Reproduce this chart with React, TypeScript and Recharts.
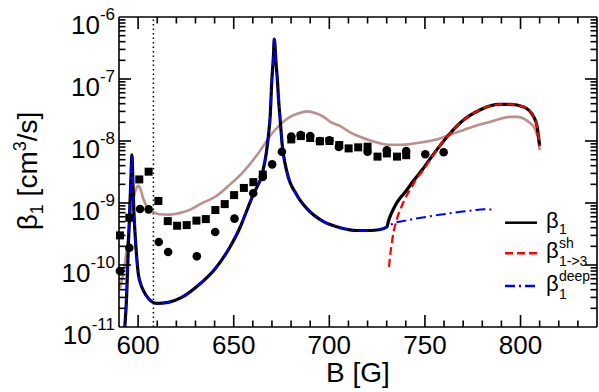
import React from 'react';
import { ComposedChart, Line, Scatter, XAxis, YAxis, ReferenceLine, Legend } from 'recharts';

const FONT = '"Liberation Sans", Arial, Helvetica, sans-serif';

// ---- data (B in G, beta in cm^3/s) ----
const sharedLow: [number, number][] = [
  [592.8, 7.9e-12], [594, 3.2e-11], [595, 2.5e-10], [596, 1.6e-9], [596.8, 6.0e-9],
  [597.3, 2.0e-9], [597.8, 7.1e-10], [598.4, 3.2e-10], [599.2, 1.4e-10], [600.1, 7.2e-11],
  [601.3, 5.0e-11], [602.7, 3.9e-11], [605.3, 2.9e-11], [609.7, 2.4e-11], [615.8, 2.5e-11],
  [622.8, 3.0e-11], [631.5, 4.7e-11], [640.3, 8.7e-11], [649, 2.2e-10], [653.4, 4.1e-10],
  [656.5, 7.1e-10], [660.3, 1.4e-9], [665.2, 3.2e-9], [667, 6.3e-9], [668.2, 1.26e-8],
  [669.1, 2.6e-8], [669.9, 9.1e-8], [670.8, 2.45e-7], [671.2, 4.4e-7], [672.2, 1.7e-7],
  [672.9, 9.1e-8], [673.4, 4.9e-8], [674.3, 2.2e-8], [675.2, 9.8e-9], [677.8, 3.2e-9],
  [683, 1.35e-9], [688.3, 8.1e-10], [697, 5.0e-10], [705.7, 4.0e-10], [714.5, 3.6e-10],
  [721.4, 3.6e-10], [726, 3.7e-10], [730.1, 4.1e-10],
];
const beta1Upper: [number, number][] = [
  [731, 5.2e-10], [732, 6.3e-10], [733.6, 8.1e-10], [737, 1.2e-9], [738.9, 1.4e-9],
  [744.1, 2.3e-9], [748.5, 3.4e-9], [752.8, 5.2e-9], [761.6, 1.17e-8], [770.3, 2.2e-8],
  [779, 3.2e-8], [784.2, 3.7e-8], [789, 3.9e-8], [794.7, 3.9e-8], [801.7, 3.55e-8],
  [806.9, 2.45e-8], [808.7, 1.7e-8], [810, 8.3e-9],
];
const deepUpper: [number, number][] = [
  [733.6, 4.7e-10], [740, 5.2e-10], [751, 6.0e-10], [760, 6.6e-10], [768.5, 7.2e-10],
  [775, 7.6e-10], [781, 7.9e-10], [786.5, 7.8e-10],
];
const betaSh: [number, number][] = [
  [731.2, 9.3e-11], [732, 1.58e-10], [732.8, 2.4e-10], [733.6, 3.4e-10], [735.4, 5.6e-10],
  [738, 9.1e-10], [740.6, 1.35e-9], [742.4, 1.66e-9], [745.8, 2.5e-9], [748.5, 3.2e-9],
  [752.8, 5.0e-9], [757, 7.9e-9], [761.6, 1.17e-8], [770.3, 2.2e-8], [779, 3.2e-8],
  [784.2, 3.7e-8], [789, 3.9e-8], [794.7, 3.9e-8], [801.7, 3.55e-8], [806.9, 2.45e-8],
  [808.7, 1.7e-8], [810, 8.3e-9],
];
const brownCurve: [number, number][] = [
  [590.5, 4.2e-11], [593, 1.0e-10], [595, 3.2e-10], [597.5, 1.12e-9], [598.8, 1.66e-9],
  [600.3, 1.9e-9], [601.5, 1.58e-9], [602.7, 1.17e-9], [605.3, 8.1e-10], [608, 7.1e-10],
  [611, 6.6e-10], [616.7, 6.5e-10], [621, 6.8e-10], [626.3, 7.6e-10], [633, 9.8e-10],
  [640.3, 1.26e-9], [647, 1.86e-9], [654, 2.95e-9], [662.1, 5.9e-9], [670.8, 1.41e-8],
  [679.5, 2.45e-8], [684, 2.8e-8], [688.3, 3.0e-8], [693, 2.8e-8], [697, 2.45e-8],
  [700.5, 2.04e-8], [705.7, 1.74e-8], [710.9, 1.38e-8], [716, 1.17e-8], [721.4, 1.02e-8],
  [726, 9.3e-9], [731.9, 8.7e-9], [738, 8.7e-9], [744.1, 9.1e-9], [751, 9.8e-9],
  [758, 1.1e-8], [764, 1.29e-8], [770.3, 1.51e-8], [777, 1.78e-8], [784.2, 2.04e-8],
  [790, 2.3e-8], [794.7, 2.45e-8], [798.5, 2.45e-8], [801.7, 2.3e-8], [804.5, 2.0e-8],
  [806.9, 1.7e-8], [808.5, 1.32e-8], [809.5, 1.02e-8], [810, 7.1e-9],
];
const squarePoints: [number, number][] = [
  [590.5, 3.0e-10], [595.4, 5.8e-10], [600.6, 2.4e-9], [605.5, 3.2e-9], [610.6, 1.08e-9],
  [615.5, 5.1e-10], [620.4, 4.3e-10], [625.4, 4.4e-10], [630.5, 5.2e-10], [635.4, 5.5e-10],
  [640.4, 7.7e-10], [645.3, 9.6e-10], [650.2, 1.34e-9], [655.3, 1.75e-9], [660.3, 2.17e-9],
  [665.2, 2.88e-9], [680.1, 1.06e-8], [685.1, 1.2e-8], [690, 1.12e-8], [695.1, 9.9e-9],
  [700.1, 1.0e-8], [705.2, 8.6e-9], [710.1, 7.6e-9], [715.1, 7.9e-9], [720, 8.1e-9],
  [725.2, 5.6e-9], [730.1, 6.3e-9], [735.4, 5.6e-9], [740.2, 5.9e-9],
];
const circlePoints: [number, number][] = [
  [590.5, 8.0e-11], [595.4, 1.9e-10], [601, 8.0e-10], [605.5, 7.9e-10], [610.8, 2.35e-10],
  [615.7, 1.62e-10], [630.7, 1.38e-10], [640.3, 3.4e-10], [650.4, 5.6e-10], [660.2, 1.44e-9],
  [665.2, 2.64e-9], [670.1, 4.2e-9], [675.2, 6.7e-9], [680.1, 1.18e-8], [685, 1.25e-8],
  [690, 1.2e-8], [695, 1.0e-8], [700, 1.03e-8], [705, 8.0e-9], [720, 6.7e-9],
  [730.1, 7.1e-9], [740.2, 6.9e-9], [750.2, 6.1e-9], [759.8, 6.6e-9],
];
const dottedMarkerB = 608;

// ---- axes ----
const xDomain: [number, number] = [590, 840];
const xMajorTicks = [600, 650, 700, 750, 800];
const xMinorTicks = [610, 620, 630, 640, 660, 670, 680, 690, 710, 720, 730, 740, 760, 770, 780, 790, 810, 820, 830];
const yDomain: [number, number] = [1e-11, 1e-6];
const yMajorTicks = [1e-11, 1e-10, 1e-9, 1e-8, 1e-7, 1e-6];
const yTickExponents = ['-11', '-10', '-9', '-8', '-7', '-6'];
const yMinorMultipliers = [2, 3, 4, 5, 6, 7, 8, 9];

const yMinorTicks: number[] = [];
yMajorTicks.slice(0, -1).forEach((t) => yMinorMultipliers.forEach((m) => yMinorTicks.push(m * t)));

const legendItems = [
  { key: 'b1', color: '#000000', dash: undefined as string | undefined, sup: '', sub: '1' },
  { key: 'sh', color: '#ff0000', dash: '8 4', sup: 'sh', sub: '1->3' },
  { key: 'deep', color: '#0000ff', dash: '10 4 2 4', sup: 'deep', sub: '1' },
];

const toPts = (arr: [number, number][]) => arr.map(([x, y]) => ({ x, y }));

// layout
const W = 599;
const H = 392;
const M = { top: 16, right: 1, bottom: 64, left: 118 };
const PL = M.left + 1;
const PR = W - M.right - 1;
const PT = M.top + 1;
const PB = H - M.bottom - 1;

const MAJOR = 12;
const MINOR = 6.5;
const TICK_W = 1.6;

// axis-tick placement (same linear / log mapping as the axes)
const tickX = (v: number) => PL + ((v - xDomain[0]) / (xDomain[1] - xDomain[0])) * (PR - PL);
const tickY = (v: number) =>
  PT + ((Math.log10(yDomain[1]) - Math.log10(v)) / (Math.log10(yDomain[1]) - Math.log10(yDomain[0]))) * (PB - PT);

const BottomTickLabel = (props: any) => {
  const x = Number(props.x);
  const y = Number(props.y);
  return (
    <text x={x} y={y + 26.6} textAnchor="middle" fontSize={26} fontFamily={FONT} fill="#000">
      {props.payload.value}
    </text>
  );
};
const LeftTickLabel = (props: any) => {
  const x = Number(props.x);
  const y = Number(props.y);
  const idx = yMajorTicks.findIndex((t) => Math.abs(t - Number(props.payload.value)) / t < 1e-6);
  return (
    <text x={x - 4} y={y + 17} textAnchor="end" fontSize={26} fontFamily={FONT} fill="#000">
      <tspan>10</tspan>
      <tspan dy={-14} fontSize={17}>{yTickExponents[idx]}</tspan>
    </text>
  );
};

const Overlay = () => {
  const xt = [
    ...xMajorTicks.map((v) => ({ v, len: MAJOR })),
    ...xMinorTicks.map((v) => ({ v, len: MINOR })),
  ];
  const yt = [
    ...yMajorTicks.slice(1, -1).map((v) => ({ v, len: MAJOR })),
    ...yMinorTicks.map((v) => ({ v, len: MINOR })),
  ];
  return (
    <svg width={W} height={H} style={{ overflow: 'visible', pointerEvents: 'none' }}>
      {xt.map(({ v, len }) => {
        const x = tickX(v);
        return (
          <g key={`x${v}`}>
            <line x1={x} y1={PB} x2={x} y2={PB - len} stroke="#000000" strokeWidth={TICK_W} />
            <line x1={x} y1={PT} x2={x} y2={PT + len} stroke="#000000" strokeWidth={TICK_W} />
          </g>
        );
      })}
      {yt.map(({ v, len }) => {
        const y = tickY(v);
        return (
          <g key={`y${v}`}>
            <line x1={PL} y1={y} x2={PL + len} y2={y} stroke="#000000" strokeWidth={TICK_W} />
            <line x1={PR} y1={y} x2={PR - len} y2={y} stroke="#000000" strokeWidth={TICK_W} />
          </g>
        );
      })}
      <text x={358} y={381.7} textAnchor="middle" fontSize={28} fontFamily={FONT} fill="#000">
        B [G]
      </text>
      <text
        x={37}
        y={171}
        transform="rotate(-90, 37, 171)"
        textAnchor="middle"
        fontSize={28}
        fontFamily={FONT}
        fill="#000"
      >
        <tspan>β</tspan>
        <tspan dy={6} fontSize={18}>1</tspan>
        <tspan dy={-6}> [cm</tspan>
        <tspan dy={-11} fontSize={18}>3</tspan>
        <tspan dy={11}>/s]</tspan>
      </text>
      {legendItems.map((it, i) => {
        const ly = [222.7, 253.3, 286][i];
        return (
          <g key={it.key}>
            <line x1={505} y1={ly} x2={537} y2={ly} stroke={it.color} strokeWidth={2.5} strokeDasharray={it.dash} />
            <text x={546} y={ly + 5} fontSize={22} fontFamily={FONT} fill="#000">β</text>
            {it.sup ? (
              <text x={559} y={ly - 5} fontSize={14} fontFamily={FONT} fill="#000">{it.sup}</text>
            ) : null}
            <text x={559} y={ly + (it.sup ? 12.5 : 11)} fontSize={14} fontFamily={FONT} fill="#000">{it.sub}</text>
          </g>
        );
      })}
    </svg>
  );
};

const SquareShape = (props: any) => {
  const { cx, cy } = props;
  return <rect x={cx - 4} y={cy - 4} width={8} height={8} fill="#000" />;
};
const CircleShape = (props: any) => {
  const { cx, cy } = props;
  return <circle cx={cx} cy={cy} r={4.3} fill="#000" />;
};

export default function App() {
  const beta1 = toPts([...sharedLow, ...beta1Upper]);
  const deep = toPts([...sharedLow, ...deepUpper]);
  const sh = toPts(betaSh);
  const brown = toPts(brownCurve);
  const squares = toPts(squarePoints);
  const circles = toPts(circlePoints);

  return (
    <div style={{ position: 'absolute', left: 0, top: 0, width: W, height: H, background: '#fff' }}>
      <ComposedChart width={W} height={H} margin={M}>
        <XAxis
          xAxisId="b"
          dataKey="x"
          type="number"
          domain={xDomain}
          ticks={xMajorTicks}
          interval={0}
          tickSize={0}
          tickMargin={0}
          tickLine={false}
          tick={<BottomTickLabel />}
          height={1}
          axisLine={{ stroke: '#000', strokeWidth: 1.6 }}
        />
        <XAxis
          xAxisId="t"
          orientation="top"
          type="number"
          domain={xDomain}
          tick={false}
          tickLine={false}
          height={1}
          axisLine={{ stroke: '#000', strokeWidth: 1.6 }}
        />
        <YAxis
          yAxisId="l"
          dataKey="y"
          type="number"
          scale="log"
          domain={yDomain}
          allowDataOverflow
          ticks={yMajorTicks}
          interval={0}
          tickSize={0}
          tickMargin={0}
          tickLine={false}
          tick={<LeftTickLabel />}
          width={1}
          axisLine={{ stroke: '#000', strokeWidth: 1.6 }}
        />
        <YAxis
          yAxisId="r"
          orientation="right"
          type="number"
          scale="log"
          domain={yDomain}
          allowDataOverflow
          tick={false}
          tickLine={false}
          width={1}
          axisLine={{ stroke: '#000', strokeWidth: 1.6 }}
        />
        <ReferenceLine
          xAxisId="b"
          yAxisId="l"
          x={dottedMarkerB}
          stroke="#000"
          strokeWidth={1.5}
          strokeDasharray="1.5 3"
        />
        <Line xAxisId="b" yAxisId="l" data={brown} dataKey="y" type="monotone" dot={false} stroke="#bc8f8f" strokeWidth={2.6} isAnimationActive={false} />
        <Line xAxisId="b" yAxisId="l" data={beta1} dataKey="y" type="monotone" dot={false} stroke="#000" strokeWidth={3.2} isAnimationActive={false} />
        <Line xAxisId="b" yAxisId="l" data={sh} dataKey="y" type="monotone" dot={false} stroke="#ff0000" strokeWidth={2.2} strokeDasharray="8 4" isAnimationActive={false} />
        <Line xAxisId="b" yAxisId="l" data={deep} dataKey="y" type="monotone" dot={false} stroke="#0000ff" strokeWidth={2} strokeDasharray="10 4 2 4" isAnimationActive={false} />
        <Scatter xAxisId="b" yAxisId="l" data={squares} dataKey="y" shape={<SquareShape />} isAnimationActive={false} />
        <Scatter xAxisId="b" yAxisId="l" data={circles} dataKey="y" shape={<CircleShape />} isAnimationActive={false} />
        <Legend
          layout="vertical"
          align="center"
          verticalAlign="middle"
          content={<Overlay />}
          wrapperStyle={{ position: 'absolute', left: 0, top: 0, width: W, height: H, pointerEvents: 'none' }}
        />
      </ComposedChart>
    </div>
  );
}
